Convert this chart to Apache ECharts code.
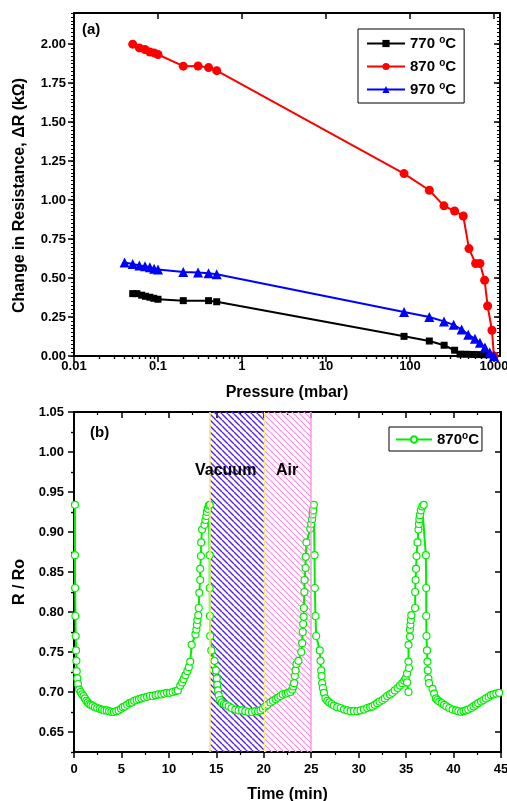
<!DOCTYPE html>
<html>
<head>
<meta charset="utf-8">
<script src="https://cdn.jsdelivr.net/npm/echarts@6/dist/echarts.min.js"></script>
<style>
  html, body { margin: 0; padding: 0; background: #fff; }
  #chart { width: 507px; height: 801px; }
</style>
</head>
<body>
<div id="chart"></div>
<script>
// ---------- (a) change in resistance vs pressure ----------
const pressure770 = [0.05, 0.056, 0.064, 0.071, 0.08, 0.089, 0.1, 0.2, 0.4, 0.5, 85, 170, 255, 340, 395, 470, 570, 680, 820, 1000];
const dR770       = [0.400, 0.400, 0.390, 0.383, 0.377, 0.370, 0.364, 0.355, 0.355, 0.348, 0.126, 0.096, 0.069, 0.037, 0.012, 0.011, 0.010, 0.009, 0.008, 0.0];

const pressure870 = [0.05, 0.06, 0.07, 0.08, 0.09, 0.1, 0.2, 0.3, 0.4, 0.5, 85, 170, 254, 340, 431, 504, 605, 681, 774, 840, 946, 1000];
const dR870       = [2.00, 1.976, 1.966, 1.950, 1.944, 1.934, 1.859, 1.860, 1.850, 1.830, 1.170, 1.063, 0.963, 0.930, 0.898, 0.689, 0.593, 0.593, 0.486, 0.321, 0.165, 0.0];

const pressure970 = [0.04, 0.05, 0.06, 0.07, 0.08, 0.09, 0.1, 0.2, 0.3, 0.4, 0.5, 85, 170, 254, 331, 412, 494, 594, 681, 781, 891, 1000];
const dR970       = [0.600, 0.590, 0.580, 0.575, 0.570, 0.560, 0.555, 0.539, 0.535, 0.530, 0.525, 0.282, 0.250, 0.222, 0.200, 0.170, 0.137, 0.110, 0.085, 0.054, 0.022, 0.0];

const tempNames = ['770 °C', '870 °C', '970 °C'];
const tempColors = ['#000000', '#ff0000', '#0000ff'];

const pressureTicks = [0.01, 0.1, 1, 10, 100, 1000];
const dRTicks = [0, 0.25, 0.5, 0.75, 1.0, 1.25, 1.5, 1.75, 2.0];

// ---------- (b) R/Ro response vs time at 870 °C ----------
const timeMin = [
  0.10, 0.10, 0.12, 0.15, 0.18, 0.22, 0.25, 0.28, 0.35, 0.42, 0.55, 0.70, 0.85, 1.00, 1.15, 1.30, 1.45, 1.60, 1.75, 1.95,
  2.20, 2.45, 2.70, 2.95, 3.20, 3.45, 3.70, 3.95, 4.20, 4.45, 4.70, 4.95, 5.15, 5.35, 5.60, 5.85, 6.10, 6.35, 6.60, 6.85,
  7.10, 7.40, 7.70, 8.00, 8.30, 8.60, 8.90, 9.20, 9.50, 9.80, 10.10, 10.40, 10.70, 10.95, 11.20, 11.40, 11.55, 11.75, 11.95, 12.10,
  12.25, 12.40, 12.80, 12.90, 12.95, 13.00, 13.10, 13.15, 13.20, 13.30, 13.30, 13.38, 13.40, 13.50, 13.75, 13.85, 13.95, 14.00, 14.10, 14.20,
  14.30, 14.30, 14.30, 14.32, 14.35, 14.47, 14.80, 14.95, 15.05, 15.10, 15.18, 15.25, 15.40, 15.60, 15.80, 16.00, 16.30, 16.60, 17.00, 17.35,
  17.70, 18.05, 18.40, 18.75, 19.10, 19.40, 19.65, 19.90, 20.15, 20.40, 20.70, 20.95, 21.25, 21.50, 21.75, 22.00, 22.30, 22.55, 22.80, 23.00,
  23.10, 23.20, 23.27, 23.35, 23.45, 23.65, 23.95, 24.05, 24.10, 24.15, 24.20, 24.22, 24.28, 24.30, 24.40, 24.42, 24.50, 24.90, 25.00, 25.10,
  25.15, 25.20, 25.28, 25.35, 25.38, 25.45, 25.52, 25.90, 25.98, 26.05, 26.09, 26.15, 26.23, 26.34, 26.50, 26.70, 26.90, 27.15, 27.40, 27.75,
  28.10, 28.45, 28.80, 29.15, 29.50, 29.85, 30.20, 30.55, 30.90, 31.20, 31.45, 31.70, 31.95, 32.20, 32.50, 32.75, 33.00, 33.30, 33.55, 33.80,
  34.10, 34.35, 34.60, 34.80, 34.95, 35.25, 35.10, 35.10, 35.30, 35.25, 35.25, 35.40, 35.40, 35.45, 35.50, 35.55, 35.95, 35.95, 36.00, 36.05,
  36.10, 36.20, 36.30, 36.35, 36.40, 36.45, 36.55, 36.70, 36.85, 37.08, 37.12, 37.12, 37.15, 37.20, 37.25, 37.28, 37.35, 37.42, 37.78, 37.95,
  38.14, 38.30, 38.50, 38.75, 39.00, 39.25, 39.55, 39.90, 40.25, 40.50, 40.80, 41.05, 41.30, 41.55, 41.85, 42.10, 42.35, 42.60, 42.90, 43.15,
  43.40, 43.70, 43.95, 44.20, 44.50, 44.80
];
const rRatio = [
  0.934, 0.871, 0.830, 0.795, 0.770, 0.752, 0.739, 0.726, 0.717, 0.710, 0.703, 0.700, 0.697, 0.695, 0.692, 0.689, 0.687, 0.685, 0.684, 0.683,
  0.681, 0.680, 0.679, 0.678, 0.677, 0.677, 0.676, 0.675, 0.675, 0.676, 0.677, 0.679, 0.681, 0.682, 0.684, 0.686, 0.687, 0.689, 0.690, 0.691,
  0.692, 0.693, 0.694, 0.695, 0.695, 0.696, 0.697, 0.697, 0.698, 0.699, 0.699, 0.700, 0.701, 0.702, 0.708, 0.712, 0.716, 0.721, 0.726, 0.731,
  0.738, 0.759, 0.772, 0.778, 0.784, 0.790, 0.796, 0.805, 0.824, 0.840, 0.854, 0.870, 0.887, 0.903, 0.909, 0.915, 0.920, 0.925, 0.929, 0.933,
  0.934, 0.871, 0.830, 0.795, 0.770, 0.752, 0.739, 0.727, 0.717, 0.709, 0.702, 0.696, 0.690, 0.687, 0.685, 0.684, 0.682, 0.680, 0.678, 0.677,
  0.677, 0.676, 0.675, 0.675, 0.676, 0.676, 0.677, 0.679, 0.682, 0.684, 0.687, 0.689, 0.691, 0.693, 0.695, 0.697, 0.698, 0.699, 0.700, 0.703,
  0.707, 0.711, 0.720, 0.727, 0.735, 0.739, 0.750, 0.761, 0.775, 0.785, 0.794, 0.805, 0.825, 0.840, 0.855, 0.869, 0.887, 0.904, 0.910, 0.916,
  0.922, 0.927, 0.934, 0.871, 0.830, 0.795, 0.770, 0.752, 0.739, 0.727, 0.720, 0.711, 0.705, 0.699, 0.692, 0.689, 0.687, 0.685, 0.683, 0.681,
  0.680, 0.678, 0.677, 0.676, 0.676, 0.676, 0.677, 0.678, 0.680, 0.681, 0.682, 0.684, 0.686, 0.688, 0.690, 0.692, 0.695, 0.697, 0.699, 0.702,
  0.705, 0.708, 0.711, 0.714, 0.717, 0.700, 0.712, 0.723, 0.730, 0.738, 0.759, 0.769, 0.778, 0.784, 0.790, 0.796, 0.805, 0.825, 0.840, 0.854,
  0.870, 0.887, 0.903, 0.910, 0.916, 0.921, 0.927, 0.932, 0.934, 0.871, 0.830, 0.795, 0.770, 0.752, 0.738, 0.727, 0.717, 0.711, 0.704, 0.698,
  0.692, 0.690, 0.688, 0.686, 0.684, 0.682, 0.680, 0.678, 0.677, 0.676, 0.675, 0.676, 0.677, 0.678, 0.680, 0.682, 0.684, 0.686, 0.688, 0.690,
  0.692, 0.694, 0.696, 0.697, 0.698, 0.699
];

const vacuumStart = 14.3, airStart = 20, airEnd = 25;
const ratioTicks = [0.65, 0.70, 0.75, 0.80, 0.85, 0.90, 0.95, 1.00, 1.05];

// ---------- helpers ----------
const FONT = '"Liberation Sans", Arial, sans-serif';
const zip = (xs, ys) => xs.map((x, i) => [x, ys[i]]);

// minor tick positions (2..9 per decade, and halfway / tenth steps on linear axes)
const logMinor = [];
for (let d = 0.01; d < 1000; d *= 10) {
  for (let k = 2; k <= 9; k++) logMinor.push(+(d * k).toPrecision(3));
}
const dRMinor = [];
for (let i = 0; i <= 88; i++) dRMinor.push(+(i * 0.025).toFixed(3));
const ratioMinor = [];
for (let v = 0.625; v < 1.05; v += 0.05) ratioMinor.push(+v.toFixed(3));

function hatch(color, width) {
  const s = 6;
  const c = document.createElement('canvas');
  c.width = s; c.height = s;
  const g = c.getContext('2d');
  g.strokeStyle = color;
  g.lineWidth = width;
  for (let k = -1; k <= 1; k++) {
    g.beginPath();
    g.moveTo(k * s, 0);
    g.lineTo(k * s + s, s);
    g.stroke();
  }
  return { image: c, repeat: 'repeat' };
}

const black = '#000';
const labelStyle = { color: black, fontFamily: FONT, fontWeight: 'bold', fontSize: 13 };
const nameStyle = { color: black, fontFamily: FONT, fontWeight: 'bold', fontSize: 16 };

function xLog(opts) {
  return Object.assign({
    type: 'log', logBase: 10, gridIndex: 0, min: 0.01, max: 1180,
    splitLine: { show: false }, axisLine: { show: false },
    axisLabel: { show: false }, axisTick: { show: false }
  }, opts);
}
function plainAxis(type, opts) {
  return Object.assign({
    type: 'value', splitLine: { show: false }, axisLine: { show: false },
    axisLabel: { show: false }, axisTick: { show: false }
  }, opts);
}

const chart = echarts.init(document.getElementById('chart'), null, { renderer: 'canvas' });

const option = {
  backgroundColor: '#fff',
  animation: false,
  grid: [
    { left: 74, right: 7, top: 13, height: 343, outerBoundsMode: 'none', containLabel: false },
    { left: 74, right: 6, top: 412, height: 340, outerBoundsMode: 'none', containLabel: false }
  ],
  xAxis: [
    xLog({
      position: 'bottom',
      axisLine: { show: true, onZero: false, lineStyle: { color: black, width: 2 } },
      axisTick: { show: true, inside: false, length: 6, customValues: pressureTicks, lineStyle: { color: black, width: 1.5 } },
      axisLabel: {
        show: true, margin: 4, customValues: pressureTicks, ...labelStyle,
        formatter: v => String(+(+v).toPrecision(3))
      },
      name: 'Pressure (mbar)', nameLocation: 'middle', nameGap: 29, nameTextStyle: nameStyle
    }),
    xLog({
      position: 'bottom',
      axisTick: { show: true, inside: false, length: 3, customValues: logMinor, lineStyle: { color: black, width: 1.2 } }
    }),
    xLog({
      position: 'top',
      axisLine: { show: true, onZero: false, lineStyle: { color: black, width: 2 } },
      axisTick: { show: true, inside: true, length: 6, customValues: pressureTicks, lineStyle: { color: black, width: 1.5 } }
    }),
    xLog({
      position: 'top',
      axisTick: { show: true, inside: true, length: 3, customValues: logMinor, lineStyle: { color: black, width: 1.2 } }
    }),
    plainAxis('value', {
      gridIndex: 1, min: 0, max: 45, interval: 5, position: 'bottom',
      axisLine: { show: true, onZero: false, lineStyle: { color: black, width: 2 } },
      axisTick: { show: true, inside: false, length: 6, lineStyle: { color: black, width: 1.5 } },
      minorTick: { show: true, splitNumber: 2, length: 3, lineStyle: { color: black, width: 1.2 } },
      axisLabel: { show: true, margin: 11, ...labelStyle },
      name: 'Time (min)', nameLocation: 'middle', nameGap: 35, nameTextStyle: nameStyle
    }),
    plainAxis('value', {
      gridIndex: 1, min: 0, max: 45, interval: 5, position: 'top',
      axisLine: { show: true, onZero: false, lineStyle: { color: black, width: 2 } },
      axisTick: { show: true, inside: true, length: 6, lineStyle: { color: black, width: 1.5 } },
      minorTick: { show: true, splitNumber: 2, length: 3, lineStyle: { color: black, width: 1.2 } }
    })
  ],
  yAxis: [
    plainAxis('value', {
      gridIndex: 0, min: 0, max: 2.2, position: 'left',
      axisLine: { show: true, onZero: false, lineStyle: { color: black, width: 2 } },
      axisTick: { show: true, inside: false, length: 6, customValues: dRTicks, lineStyle: { color: black, width: 1.5 } },
      axisLabel: { show: true, margin: 8, customValues: dRTicks, ...labelStyle, formatter: v => (+v).toFixed(2) },
      name: 'Change in Resistance, ΔR (kΩ)', nameLocation: 'middle', nameGap: 46,
      nameTextStyle: Object.assign({ padding: [0, 22, 0, 0] }, nameStyle)
    }),
    plainAxis('value', {
      gridIndex: 0, min: 0, max: 2.2, position: 'left',
      axisTick: { show: true, inside: false, length: 3, customValues: dRMinor, lineStyle: { color: black, width: 1 } }
    }),
    plainAxis('value', {
      gridIndex: 0, min: 0, max: 2.2, position: 'right',
      axisLine: { show: true, onZero: false, lineStyle: { color: black, width: 2 } },
      axisTick: { show: true, inside: true, length: 6, customValues: dRTicks, lineStyle: { color: black, width: 1.5 } }
    }),
    plainAxis('value', {
      gridIndex: 0, min: 0, max: 2.2, position: 'right',
      axisTick: { show: true, inside: true, length: 3, customValues: dRMinor, lineStyle: { color: black, width: 1 } }
    }),
    plainAxis('value', {
      gridIndex: 1, min: 0.625, max: 1.05, position: 'left',
      axisLine: { show: true, onZero: false, lineStyle: { color: black, width: 2 } },
      axisTick: { show: true, inside: false, length: 6, customValues: ratioTicks, lineStyle: { color: black, width: 1.5 } },
      axisLabel: { show: true, margin: 10, customValues: ratioTicks, ...labelStyle, formatter: v => (+v).toFixed(2) },
      name: 'R / Ro', nameLocation: 'middle', nameGap: 42, nameTextStyle: nameStyle
    }),
    plainAxis('value', {
      gridIndex: 1, min: 0.625, max: 1.05, position: 'left',
      axisTick: { show: true, inside: false, length: 3, customValues: ratioMinor, lineStyle: { color: black, width: 1.2 } }
    }),
    plainAxis('value', {
      gridIndex: 1, min: 0.625, max: 1.05, position: 'right',
      axisLine: { show: true, onZero: false, lineStyle: { color: black, width: 2 } },
      axisTick: { show: true, inside: true, length: 6, customValues: ratioTicks, lineStyle: { color: black, width: 1.5 } }
    }),
    plainAxis('value', {
      gridIndex: 1, min: 0.625, max: 1.05, position: 'right',
      axisTick: { show: true, inside: true, length: 3, customValues: ratioMinor, lineStyle: { color: black, width: 1.2 } }
    })
  ],
  legend: [
    {
      data: tempNames, orient: 'vertical', left: 358, top: 29,
      padding: [6, 8, 6, 8], itemGap: 7, itemWidth: 38, itemHeight: 9,
      borderColor: black, borderWidth: 1, backgroundColor: '#fff',
      textStyle: {
        color: black, fontFamily: FONT, fontWeight: 'bold', fontSize: 15,
        rich: { sup: { fontFamily: FONT, fontWeight: 'bold', fontSize: 10, verticalAlign: 'top', padding: [0, 0, 7, 0] } }
      },
      formatter: n => n.replace(' °C', ' {sup|o}C')
    },
    {
      data: ['870°C'], orient: 'vertical', left: 389, top: 427,
      padding: [4, 3, 4, 6], itemWidth: 36, itemHeight: 8,
      borderColor: black, borderWidth: 1, backgroundColor: '#fff',
      textStyle: {
        color: black, fontFamily: FONT, fontWeight: 'bold', fontSize: 15,
        rich: { sup: { fontFamily: FONT, fontWeight: 'bold', fontSize: 10, verticalAlign: 'top', padding: [0, 0, 7, 0] } }
      },
      formatter: n => n.replace('°C', '{sup|o}C')
    }
  ],
  graphic: [
    { type: 'text', left: 82, top: 22, style: { text: '(a)', font: 'bold 15px ' + FONT, fill: black } },
    { type: 'text', left: 90, top: 425, style: { text: '(b)', font: 'bold 15px ' + FONT, fill: black } },
    { type: 'text', left: 195, top: 463, z: 10, style: { text: 'Vacuum', font: 'bold 16px ' + FONT, fill: black } },
    { type: 'text', left: 276, top: 463, z: 10, style: { text: 'Air', font: 'bold 16px ' + FONT, fill: black } }
  ],
  series: [
    {
      name: tempNames[0], type: 'line', xAxisIndex: 0, yAxisIndex: 0,
      data: zip(pressure770, dR770), symbol: 'rect', symbolSize: 7,
      lineStyle: { color: tempColors[0], width: 2 }, itemStyle: { color: tempColors[0] }
    },
    {
      name: tempNames[1], type: 'line', xAxisIndex: 0, yAxisIndex: 0,
      data: zip(pressure870, dR870), symbol: 'circle', symbolSize: 9,
      lineStyle: { color: tempColors[1], width: 2 }, itemStyle: { color: tempColors[1] }
    },
    {
      name: tempNames[2], type: 'line', xAxisIndex: 0, yAxisIndex: 0,
      data: zip(pressure970, dR970), symbol: 'triangle', symbolSize: 10,
      lineStyle: { color: tempColors[2], width: 2 }, itemStyle: { color: tempColors[2] }
    },
    {
      // gas-exposure windows
      name: 'windows', type: 'line', xAxisIndex: 4, yAxisIndex: 4, data: [], z: 1, silent: true,
      markArea: {
        silent: true,
        data: [
          [{ xAxis: vacuumStart, itemStyle: { color: hatch('#5a24e6', 1.4), borderWidth: 0 } }, { xAxis: airStart }],
          [{ xAxis: airStart, itemStyle: { color: hatch('#ff8ae8', 1.2), borderWidth: 0 } }, { xAxis: airEnd }]
        ]
      },
      markLine: {
        silent: true, symbol: 'none', label: { show: false },
        data: [
          { xAxis: vacuumStart, lineStyle: { color: '#ffe97a', width: 1.5, type: 'solid' } },
          { xAxis: airStart, lineStyle: { color: '#ffe97a', width: 1, type: 'solid' } },
          { xAxis: airEnd, lineStyle: { color: '#ff99ee', width: 1.5, type: 'solid' } }
        ]
      }
    },
    {
      name: '870°C', type: 'line', xAxisIndex: 4, yAxisIndex: 4, z: 3,
      data: zip(timeMin, rRatio), symbol: 'circle', symbolSize: 7,
      lineStyle: { color: '#00ee00', width: 2 },
      itemStyle: { color: '#ffffff', borderColor: '#00ee00', borderWidth: 1.2 }
    }
  ]
};

chart.setOption(option);
</script>
</body>
</html>
